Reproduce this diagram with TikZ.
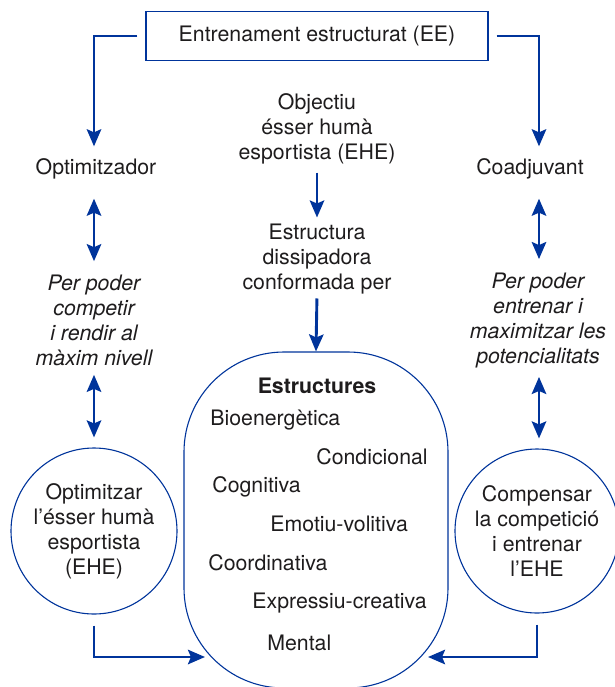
\documentclass[tikz,border=0pt]{standalone}
\usepackage{fontspec}
\setmainfont{TeX Gyre Heros}
\usepackage{tikz}
\usetikzlibrary{arrows.meta}
\definecolor{eeblue}{RGB}{0,52,155}
\definecolor{eetext}{RGB}{30,28,29}
\tikzset{
  conn/.style={draw=eeblue, line width=1.45pt, -{Stealth[length=8.5pt,width=7.2pt,inset=1.5pt]}},
  dbl/.style={draw=eeblue, line width=1.45pt, {Stealth[length=8.5pt,width=7.2pt,inset=1.5pt]}-{Stealth[length=8.5pt,width=7.2pt,inset=1.5pt]}},
  thin/.style={draw=eeblue, line width=0.55pt},
  txt/.style={align=center},
  item/.style={anchor=base west}
}

\begin{document}
\begin{tikzpicture}[x=0.5pt,y=-0.5pt, every node/.style={text=eetext, inner sep=0pt, font=\fontsize{10.65}{12.5}\selectfont}]
        \useasboundingbox (0,0) rectangle (615,687);
        \node[thin, minimum width=171pt, minimum height=24.5pt] (EE) at (317,36) {Entrenament estructurat (EE)};
        \node (Opt) at (96,169) {Optimitzador};
        \node (Coad) at (530,169) {Coadjuvant};
        \node[txt] (Obj) at (317,129) {Objectiu\\ésser humà\\esportista (EHE)};
        \node[txt] (Dis) at (317,259) {Estructura\\dissipadora\\conformada per};
        \node[txt, font=\fontsize{10.65}{12.5}\selectfont\itshape] (PerOpt) at (94,320) {Per poder\\competir\\i rendir al\\màxim nivell};
        \node[txt, font=\fontsize{10.65}{12.5}\selectfont\itshape] (PerCoad) at (538,320) {Per poder\\entrenar i\\maximitzar les\\potencialitats};
        \node[thin, circle, minimum size=83pt, txt] (COpt) at (94,531) {Optimitzar\\l’ésser humà\\esportista\\(EHE)};
        \node[thin, circle, minimum size=82pt, txt] (CComp) at (537,531) {Compensar\\la competició\\i entrenar\\l’EHE};
        \node[thin, rectangle, rounded corners=50pt, minimum width=132pt, minimum height=168pt] (Est) at (316,520) {};
        \coordinate (InL) at (205,657);
        \coordinate (InR) at (428,657);
        % estructures
        \node[anchor=base, font=\fontsize{10.65}{12.5}\selectfont\bfseries] (EstT) at (317,393) {Estructures};
        \node[item] (Bio) at (210,425) {Bioenergètica};
        \node[item] (Cond) at (316,464) {Condicional};
        \node[item] (Cog) at (212,492) {Cognitiva};
        \node[item] (Emo) at (270,531) {Emotiu-volitiva};
        \node[item] (Coord) at (208,570) {Coordinativa};
        \node[item] (Expr) at (252,608) {Expressiu-creativa};
        \node[item] (Ment) at (267,650) {Mental};
        % connectors
        \draw[conn, shorten <=4pt, shorten >=6pt] (EE.west) -| ([xshift=-1pt]Opt.north);
        \draw[conn, shorten <=4pt, shorten >=6pt] (EE.east) -| ([xshift=4.5pt]Coad.north);
        \draw[dbl, shorten <=9.5pt, shorten >=6.5pt] ([xshift=-1pt]Opt.south) -- (PerOpt.north);
        \draw[dbl, shorten <=4.5pt, shorten >=5pt] (PerOpt.south) -- (COpt.north);
        \draw[dbl, shorten <=9.5pt, shorten >=6.5pt] ([xshift=4.5pt]Coad.south) -- ([xshift=0.5pt]PerCoad.north);
        \draw[dbl, shorten <=4.5pt, shorten >=5pt] ([xshift=0.5pt]PerCoad.south) -- ([xshift=1pt]CComp.north);
        \draw[conn, shorten <=4pt, shorten >=3pt] (Obj.south) -- (Dis.north);
        \draw[conn, shorten <=2pt] (Dis.south) -- (Est.north);
        \draw[conn, shorten <=5.5pt] (COpt.south) |- (InL);
        \draw[conn, shorten <=5.5pt] (CComp.south) |- (InR);
\end{tikzpicture}
\end{document}
